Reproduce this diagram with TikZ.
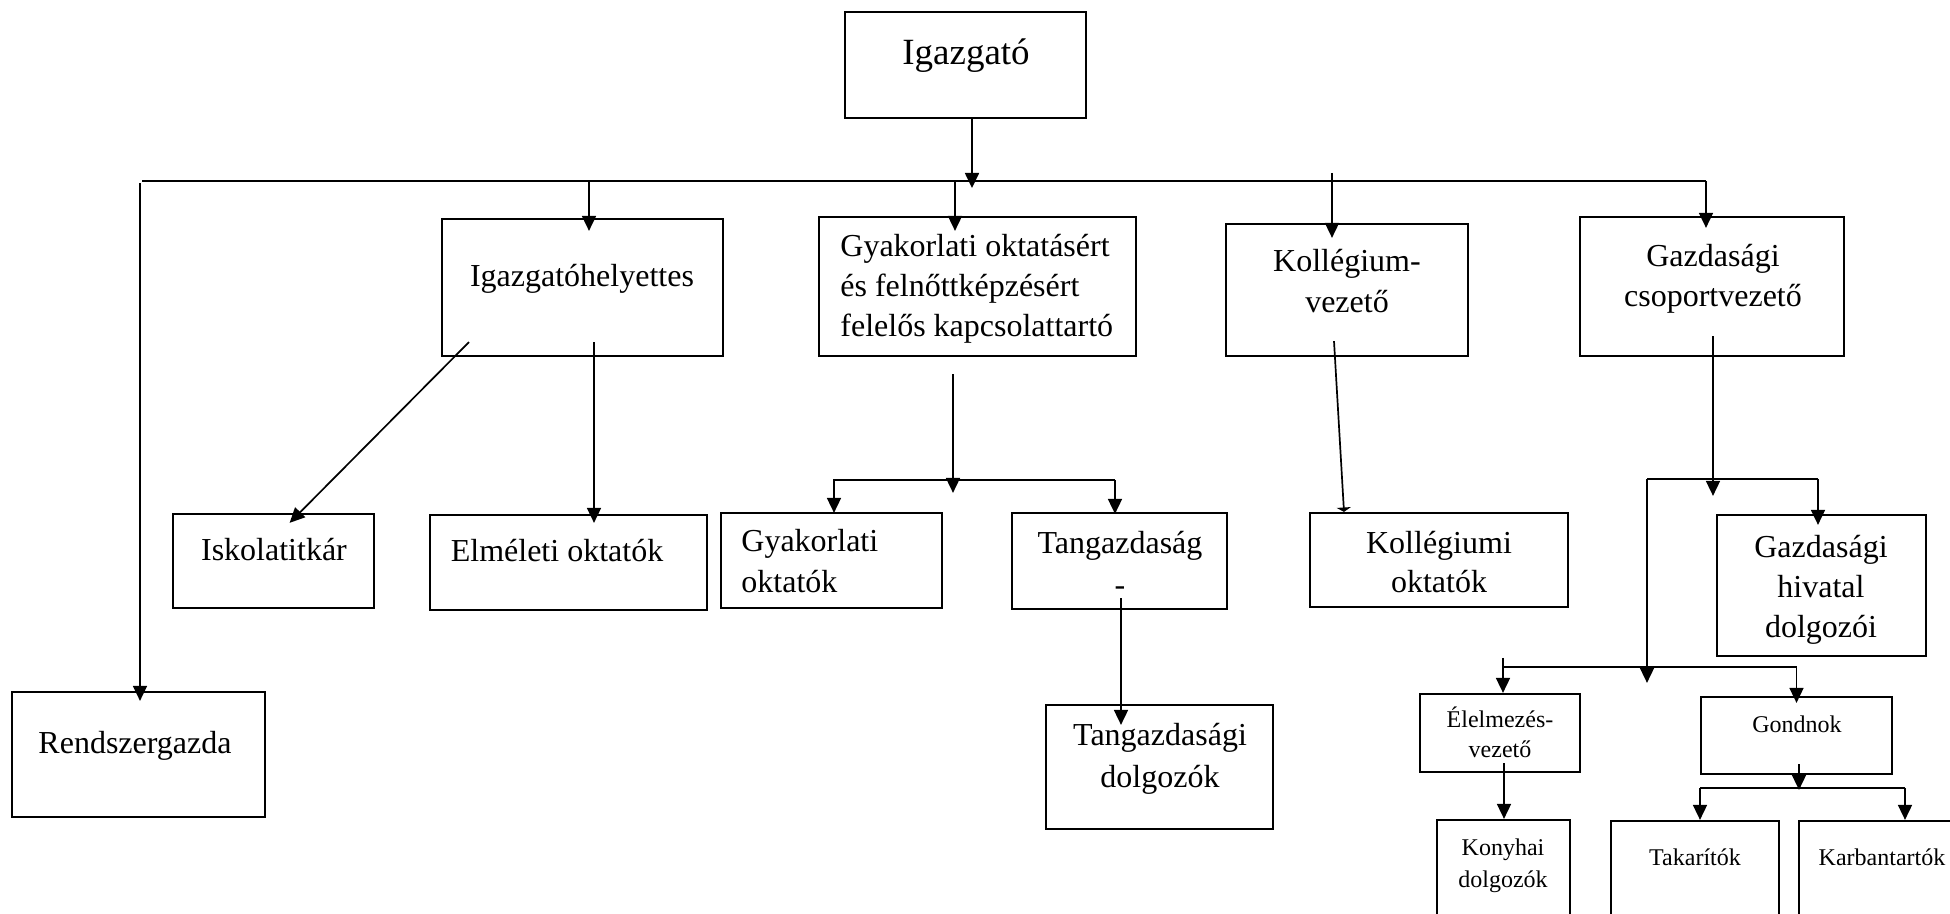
\documentclass[tikz,border=0pt]{standalone}
\usepackage{fontspec}
\setmainfont{Liberation Serif}
\usetikzlibrary{arrows.meta,calc}
\newcommand{\mytab}[2][c]{\begin{tabular}[t]{@{}#1@{}}#2\end{tabular}}
\newcommand{\fs}[2]{\fontsize{#1}{#2}\selectfont}
\tikzset{
  box/.style={draw, line width=1.1pt, inner sep=0pt},
  txt/.style={inner sep=0pt, anchor=base},
  ln/.style={line width=0.85pt},
  arr/.style={line width=0.85pt, -{Triangle[width=7pt,length=7.5pt]}},
  flat/.style={line width=0.85pt, -{Triangle[width=7pt,length=2.2pt]}},
  bus/.style={line width=1.1pt}
}
\begin{document}
\begin{tikzpicture}[x=0.5pt,y=-0.5pt]
\path[use as bounding box] (0,0) rectangle (1950,914);
\clip (0,0) rectangle (1950,914);

% boxes
\node[box, minimum width=120.5pt, minimum height=53pt] (igazgato) at (965.5,65) {};
\node[box, minimum width=140.5pt, minimum height=68.5pt] (ih) at (582.5,287.5) {};
\node[box, minimum width=158.5pt, minimum height=69.5pt] (gyo) at (977.5,286.5) {};
\node[box, minimum width=121pt, minimum height=66pt] (kv) at (1347,290) {};
\node[box, minimum width=132pt, minimum height=69.5pt] (gcs) at (1712,286.5) {};
\node[box, minimum width=126.5pt, minimum height=62.5pt] (rg) at (138.5,754.5) {};
\node[box, minimum width=100.5pt, minimum height=47pt] (isk) at (273.5,561) {};
\node[box, minimum width=138.5pt, minimum height=47.5pt] (elm) at (568.5,562.5) {};
\node[box, minimum width=110.5pt, minimum height=47.5pt] (gyok) at (831.5,560.5) {};
\node[box, minimum width=107.5pt, minimum height=48pt] (tang) at (1119.5,561) {};
\node[box, minimum width=113.5pt, minimum height=62pt] (tangd) at (1159.5,767) {};
\node[box, minimum width=129pt, minimum height=47pt] (kollo) at (1439,560) {};
\node[box, minimum width=104.5pt, minimum height=70.5pt] (ghd) at (1821.5,585.5) {};
\node[box, minimum width=80pt, minimum height=39pt] (elv) at (1500,733) {};
\node[box, minimum width=95.5pt, minimum height=38.5pt] (gond) at (1796.5,735.5) {};
\node[box, minimum width=66.5pt, minimum height=55pt] (kony) at (1503.5,875) {};
\node[box, minimum width=84pt, minimum height=54.5pt] (tak) at (1695,875.5) {};
\node[box, minimum width=83pt, minimum height=54.5pt] (karb) at (1882,875.5) {};

% texts
\node[txt, font=\fs{18.5pt}{22pt}] (t-igazgato) at (966,65) {Igazgató};
\node[txt, font=\fs{16pt}{20pt}] (t-ih) at (582,287) {Igazgatóhelyettes};
\node[txt, font=\fs{16pt}{20pt}, anchor=base west] (t-gyo) at (840,257) {\mytab[l]{Gyakorlati oktatásért\\és felnőttképzésért\\felelős kapcsolattartó}};
\node[txt, font=\fs{16pt}{20.5pt}] (t-kv) at (1347,272) {\mytab{Kollégium-\\vezető}};
\node[txt, font=\fs{16pt}{20pt}] (t-gcs) at (1713,267) {\mytab{Gazdasági\\csoportvezető}};
\node[txt, font=\fs{16pt}{20pt}] (t-isk) at (274,560) {Iskolatitkár};
\node[txt, font=\fs{16pt}{20pt}] (t-elm) at (557,561) {Elméleti oktatók};
\node[txt, font=\fs{16pt}{20.5pt}, anchor=base west] (t-gyok) at (741,552) {\mytab[l]{Gyakorlati\\oktatók}};
\node[txt, font=\fs{16pt}{21pt}] (t-tang) at (1120,553) {\mytab{Tangazdaság\\-}};
\node[txt, font=\fs{16pt}{20pt}] (t-kollo) at (1439,553) {\mytab{Kollégiumi\\oktatók}};
\node[txt, font=\fs{16pt}{20pt}] (t-ghd) at (1821,558) {\mytab{Gazdasági\\hivatal\\dolgozói}};
\node[txt, font=\fs{16pt}{21pt}] (t-tangd) at (1160,745) {\mytab{Tangazdasági\\dolgozók}};
\node[txt, font=\fs{16pt}{20pt}] (t-rg) at (135,753) {Rendszergazda};
\node[txt, font=\fs{12pt}{15pt}] (t-elv) at (1500,727) {\mytab{Élelmezés-\\vezető}};
\node[txt, font=\fs{12pt}{14.5pt}] (t-gond) at (1797,732) {Gondnok};
\node[txt, font=\fs{12pt}{16pt}] (t-kony) at (1503,855) {\mytab{Konyhai\\dolgozók}};
\node[txt, font=\fs{12pt}{14.5pt}] (t-tak) at (1695,865) {Takarítók};
\node[txt, font=\fs{12pt}{14.5pt}] (t-karb) at (1882,865) {Karbantartók};

% main bus
\coordinate (busL) at (140,181);
\coordinate (busR) at (1706,181);
\coordinate (jIG) at (972,188);
\draw[arr] (jIG |- igazgato.south) -- (jIG);
\draw[bus] ([xshift=1pt]busL) -- (busR);
\draw[arr, shorten >=-5pt] ([yshift=-1pt]busL) -- (busL |- rg.north);
\coordinate (jIH) at (589,181);
\draw[arr, shorten >=-6.5pt] (jIH) -- (jIH |- ih.north);
\coordinate (jGY) at (955,181);
\draw[arr, shorten >=-7.5pt] (jGY) -- (jGY |- gyo.north);
\coordinate (jKV) at (1332,173);
\draw[arr, shorten >=-7.5pt] (jKV) -- (jKV |- kv.north);
\draw[arr, shorten >=-6pt] (busR) -- (busR |- gcs.north);

% Igazgatohelyettes
\coordinate (ihA) at ([xshift=-56.75pt,yshift=7.5pt]ih.south);
\draw[arr, shorten >=-7pt] (ihA) -- ([xshift=13pt]isk.north);
\coordinate (ihB) at ([xshift=5.75pt,yshift=7.5pt]ih.south);
\draw[arr, shorten >=-4.5pt] (ihB) -- (ihB |- elm.north);

% Gyakorlati oktatasert
\coordinate (gyA) at ([xshift=-12.25pt,yshift=-8.5pt]gyo.south);
\coordinate (gyBL) at ([xshift=1.25pt,yshift=16pt]gyok.north);
\coordinate (gyBR) at ([xshift=-2.25pt,yshift=16pt]tang.north);
\draw[arr] (gyA) -- ([yshift=-6.5pt]gyA |- gyBL);
\draw[arr, shorten >=-0.5pt] (gyBR) -- (gyBL) -- (gyBL |- gyok.north);
\draw[arr, shorten >=-1pt] (gyBR) -- (gyBR |- tang.north);

% Tangazdasag
\coordinate (tgA) at ([xshift=0.75pt,yshift=6pt]tang.south);
\draw[arr, shorten >=-10.5pt] (tgA) -- (tgA |- tangd.north);

% Kollegium-vezeto
\coordinate (kvA) at ([xshift=-6.5pt,yshift=8pt]kv.south);
\draw[flat] (kvA) -- ([xshift=-47.5pt]kollo.north);

% Gazdasagi csoportvezeto
\coordinate (gcA) at ([xshift=0.5pt,yshift=10.5pt]gcs.south);
\coordinate (gcBR) at ([xshift=-1.75pt,yshift=17.5pt]ghd.north);
\coordinate (gcBL) at ([xshift=-85.5pt]gcBR);
\draw[arr] (gcA) -- ([yshift=-8.5pt]gcA |- gcBR);
\draw[bus] (gcBL) -- (gcBR);
\draw[arr, shorten >=-5.5pt] (gcBR) -- (gcBR |- ghd.north);
\coordinate (sbR) at ([yshift=14.5pt]gond.north);
\coordinate (sbL) at ([xshift=1.5pt,yshift=17.5pt]elv.north);
\draw[arr] (gcBL) -- ([yshift=-8pt]gcBL |- sbR);
\draw[bus] (sbL |- sbR) -- (sbR);
\draw[arr] (sbL) -- (sbL |- elv.north);
\draw[arr, shorten >=-3.5pt] (sbR) -- (gond.north);

% Elelmezes-vezeto
\coordinate (elA) at ([xshift=2pt,yshift=5pt]elv.south);
\draw[arr] (elA) -- (elA |- kony.north);

% Gondnok
\coordinate (goA) at ([xshift=1.25pt,yshift=5.5pt]gond.south);
\coordinate (tbL) at ([xshift=2.5pt,yshift=16pt]tak.north);
\coordinate (tbR) at ([xshift=11.5pt,yshift=16pt]karb.north);
\draw[arr] (goA) -- ([yshift=-1pt]goA |- tbL);
\draw[bus] (tbL) -- (tbR);
\draw[arr] (tbL) -- (tbL |- tak.north);
\draw[arr] (tbR) -- (tbR |- karb.north);
\end{tikzpicture}
\end{document}
